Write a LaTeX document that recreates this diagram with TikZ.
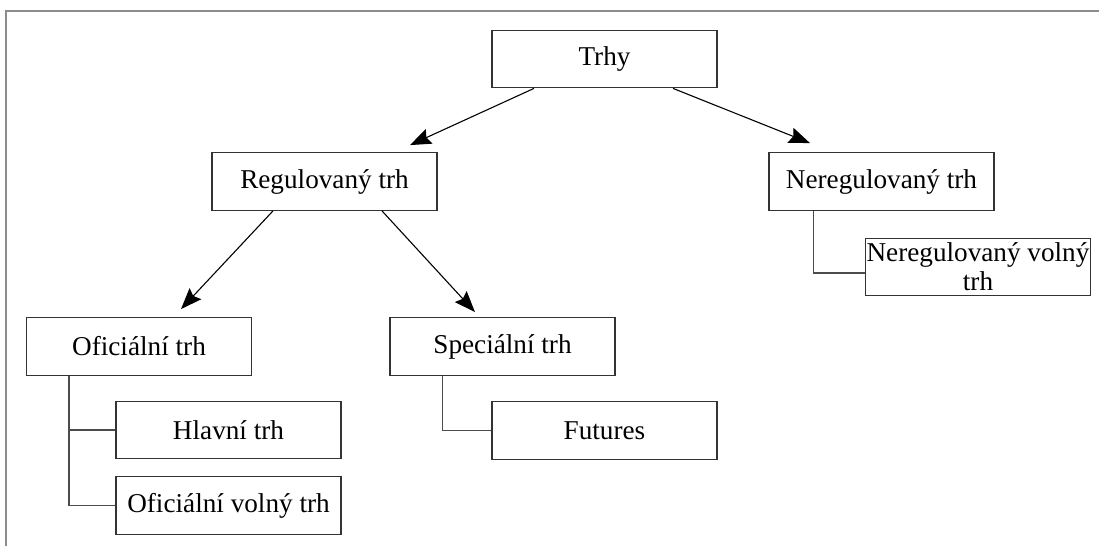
\documentclass[tikz,border=0pt]{standalone}
\usepackage{fontspec}
\setmainfont{Liberation Serif}
\usetikzlibrary{arrows.meta,calc}

\begin{document}
\begin{tikzpicture}[
    x=0.5pt,y=0.5pt,
    market/.style={draw=black!80, line width=0.6pt, align=center,
      font=\fontsize{13.6}{14.5}\selectfont, minimum width=112.5pt,
      minimum height=28.8pt, inner xsep=0.5pt, inner ysep=0.5pt},
    edge/.style={-{Stealth[length=10.5pt,width=8pt,inset=1.5pt]}, line width=0.55pt},
    tree/.style={draw=black!70, line width=0.6pt},
    frame/.style={draw=black!45, line width=1pt}
  ]
    \useasboundingbox (0,0) rectangle (1099,546);
    % outer frame (top and left only)
    \coordinate (ftop) at (1099,535);
    \coordinate (fcorner) at (6,535);
    \coordinate (fbottom) at (6,0);
    \draw[frame] (ftop) -- (fcorner) -- (fbottom);

    \node[market] (trhy) at (604.5,487) {Trhy};
    \node[market] (reg) at (324.5,364.5) {Regulovaný trh};
    \node[market] (nereg) at (881.5,364.5) {Neregulovaný trh};
    \node[market] (nvolny) at (978,279) {Neregulovaný volný\\trh};

    \node[market] (ofic) at (139,199.5) {Oficiální trh};
    \node[market] (spec) at (502.5,199.5) {Speciální trh};
    \node[market] (hlavni) at (228.5,116) {Hlavní trh};
    \node[market] (ovolny) at (228.5,40.5) {Oficiální volný trh};
    \node[market] (futures) at (604.5,115.5) {Futures};

    \draw[edge] ($(trhy.south)+(-70.5,0)$) -- ($(reg.north)+(85.5,7)$);
    \draw[edge] ($(trhy.south)+(68.5,0)$) -- ($(nereg.north)+(-71.5,9)$);
    \draw[edge] ($(reg.south)+(-51.5,0)$) -- ($(ofic.north)+(42,8)$);
    \draw[edge] ($(reg.south)+(57.5,0)$) -- ($(spec.north)+(-27.5,5)$);

    \draw[tree] ($(nereg.south west)+(45,0)$) |- ($(nvolny.west)+(0,-6)$);
    \draw[tree] ($(ofic.south west)+(43,0)$) |- (hlavni.west);
    \draw[tree] ($(ofic.south west)+(43,0)$) |- (ovolny.west);
    \draw[tree] ($(spec.south west)+(53,0)$) |- (futures.west);
  \end{tikzpicture}
\end{document}
